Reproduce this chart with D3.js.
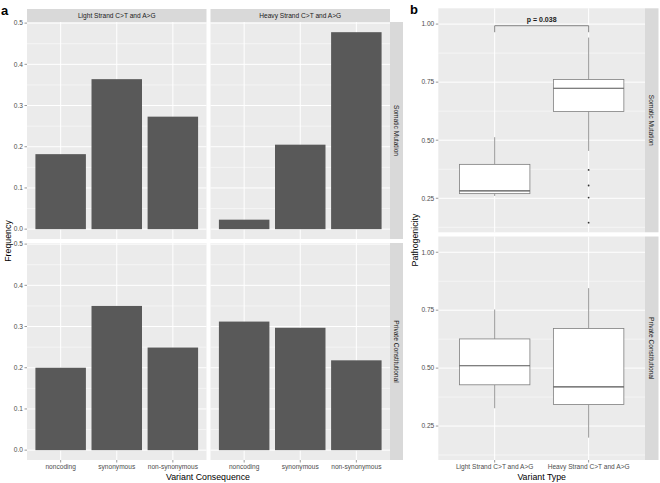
<!DOCTYPE html>
<html><head><meta charset="utf-8">
<script src="https://cdn.jsdelivr.net/npm/d3@7"></script>
<style>body{margin:0;background:#fff}svg{display:block;font-family:"Liberation Sans",Arial,sans-serif}</style>
</head><body><svg id="c" width="660" height="483"></svg>
<script>
// ---- data ----
const consequences = ["noncoding", "synonymous", "non-synonymous"];
const strands = ["Light Strand C>T and A>G", "Heavy Strand C>T and A>G"];
const origins = ["Somatic Mutation", "Private Constitutional"];
const freqSomaticLight = [0.182, 0.364, 0.273];
const freqSomaticHeavy = [0.023, 0.205, 0.478];
const freqPrivateLight = [0.200, 0.350, 0.249];
const freqPrivateHeavy = [0.312, 0.297, 0.218];
const freqTicks = [0, 0.1, 0.2, 0.3, 0.4, 0.5];
// box stats: [lowerWhisker, q1, median, q3, upperWhisker]
const boxSomaticLight = [0.260, 0.270, 0.282, 0.396, 0.513];
const boxSomaticHeavy = [0.454, 0.624, 0.724, 0.761, 0.942];
const boxPrivateLight = [0.327, 0.428, 0.510, 0.626, 0.753];
const boxPrivateHeavy = [0.200, 0.343, 0.419, 0.671, 0.845];
const outliersSomaticHeavy = [0.372, 0.305, 0.253, 0.145];
const pathTicks = [0.25, 0.50, 0.75, 1.00];
const pLabel = "p = 0.038";
const bracketY = [0.965, 0.993];

const svg = d3.select("#c");
const BG = "#EBEBEB", STRIP = "#D9D9D9", TICKC = "#4D4D4D";
const fs = 6.6;

// ---- panel a ----
const aCols = [[27, 206.5], [210.5, 390]];
const aRows = [[22, 239], [243, 460]];
const freqData = [[freqSomaticLight, freqSomaticHeavy], [freqPrivateLight, freqPrivateHeavy]];
const yMinor = [0.05, 0.15, 0.25, 0.35, 0.45];

function xBandScale(x0, x1, cats) {
  // ggplot-like discrete: positions 1..n with 0.6 expansion
  const lin = d3.scaleLinear().domain([0.4, cats.length + 0.6]).range([x0, x1]);
  return lin;
}

aRows.forEach((r, ri) => {
  const y = d3.scaleLinear().domain([-0.0239, 0.5027]).range([r[1], r[0]]);
  aCols.forEach((c, ci) => {
    const g = svg.append("g");
    g.append("rect").attr("x", c[0]).attr("y", r[0]).attr("width", c[1] - c[0]).attr("height", r[1] - r[0]).attr("fill", BG);
    yMinor.forEach(v => g.append("line").attr("x1", c[0]).attr("x2", c[1]).attr("y1", y(v)).attr("y2", y(v)).attr("stroke", "#fff").attr("stroke-width", 0.5));
    freqTicks.forEach(v => g.append("line").attr("x1", c[0]).attr("x2", c[1]).attr("y1", y(v)).attr("y2", y(v)).attr("stroke", "#fff").attr("stroke-width", 1));
    const x = xBandScale(c[0], c[1], consequences);
    consequences.forEach((k, i) => g.append("line").attr("x1", x(i + 1)).attr("x2", x(i + 1)).attr("y1", r[0]).attr("y2", r[1]).attr("stroke", "#fff").attr("stroke-width", 1));
    freqData[ri][ci].forEach((v, i) => {
      g.append("rect").attr("x", x(i + 1 - 0.45)).attr("width", x(i + 1 + 0.45) - x(i + 1 - 0.45))
        .attr("y", y(v)).attr("height", y(0) - y(v)).attr("fill", "#595959");
    });
    if (ri === 0) {
      g.append("rect").attr("x", c[0]).attr("y", 9).attr("width", c[1] - c[0]).attr("height", 13).attr("fill", STRIP);
      g.append("text").attr("x", (c[0] + c[1]) / 2).attr("y", 15.5).attr("dy", "0.35em").attr("text-anchor", "middle")
        .attr("font-size", fs).attr("fill", "#1A1A1A").text(strands[ci]);
    }
    if (ri === 1) {
      consequences.forEach((k, i) => {
        g.append("line").attr("x1", x(i + 1)).attr("x2", x(i + 1)).attr("y1", r[1]).attr("y2", r[1] + 2.5).attr("stroke", "#333").attr("stroke-width", 0.5);
        g.append("text").attr("x", x(i + 1)).attr("y", 469).attr("text-anchor", "middle").attr("font-size", fs).attr("fill", TICKC).text(k);
      });
    }
    if (ci === 0) {
      freqTicks.forEach(v => {
        g.append("line").attr("x1", c[0] - 2.5).attr("x2", c[0]).attr("y1", y(v)).attr("y2", y(v)).attr("stroke", "#333").attr("stroke-width", 0.5);
        g.append("text").attr("x", c[0] - 4).attr("y", y(v)).attr("dy", "0.35em").attr("text-anchor", "end").attr("font-size", fs).attr("fill", TICKC).text(d3.format(".1f")(v));
      });
    }
  });
  svg.append("rect").attr("x", 390).attr("y", r[0]).attr("width", 13).attr("height", r[1] - r[0]).attr("fill", STRIP);
  svg.append("text").attr("transform", `translate(396.5,${(r[0] + r[1]) / 2}) rotate(90)`).attr("dy", "0.35em")
    .attr("text-anchor", "middle").attr("font-size", fs).attr("fill", "#1A1A1A").text(origins[ri]);
});
svg.append("text").attr("x", 208).attr("y", 480).attr("text-anchor", "middle").attr("font-size", 8.8).attr("fill", "#000").text("Variant Consequence");
svg.append("text").attr("transform", "translate(11,241) rotate(-90)").attr("text-anchor", "middle").attr("font-size", 8.8).attr("fill", "#000").text("Frequency");
svg.append("text").attr("x", 1).attr("y", 15).attr("font-size", 13).attr("font-weight", "bold").attr("font-family", "Liberation Sans, Arial, sans-serif").text("a");

// ---- panel b ----
const bCol = [438.3, 645];
const bRows = [[8.3, 232.3], [236.5, 460]];
const boxData = [[boxSomaticLight, boxSomaticHeavy], [boxPrivateLight, boxPrivateHeavy]];
const bMinor = [0.125, 0.375, 0.625, 0.875];
const xb = xBandScale(bCol[0], bCol[1], strands);
bRows.forEach((r, ri) => {
  const y = d3.scaleLinear().domain([0.1035, 1.068]).range([r[1], r[0]]);
  const g = svg.append("g");
  g.append("rect").attr("x", bCol[0]).attr("y", r[0]).attr("width", bCol[1] - bCol[0]).attr("height", r[1] - r[0]).attr("fill", BG);
  bMinor.forEach(v => g.append("line").attr("x1", bCol[0]).attr("x2", bCol[1]).attr("y1", y(v)).attr("y2", y(v)).attr("stroke", "#fff").attr("stroke-width", 0.5));
  pathTicks.forEach(v => g.append("line").attr("x1", bCol[0]).attr("x2", bCol[1]).attr("y1", y(v)).attr("y2", y(v)).attr("stroke", "#fff").attr("stroke-width", 1));
  strands.forEach((s, i) => g.append("line").attr("x1", xb(i + 1)).attr("x2", xb(i + 1)).attr("y1", r[0]).attr("y2", r[1]).attr("stroke", "#fff").attr("stroke-width", 1));
  boxData[ri].forEach((b, i) => {
    const cx = xb(i + 1), hw = (xb(1.375) - xb(1));
    const col = "#7F7F7F";
    g.append("line").attr("x1", cx).attr("x2", cx).attr("y1", y(b[0])).attr("y2", y(b[1])).attr("stroke", col).attr("stroke-width", 0.8);
    g.append("line").attr("x1", cx).attr("x2", cx).attr("y1", y(b[3])).attr("y2", y(b[4])).attr("stroke", col).attr("stroke-width", 0.8);
    g.append("rect").attr("x", cx - hw).attr("width", 2 * hw).attr("y", y(b[3])).attr("height", y(b[1]) - y(b[3]))
      .attr("fill", "#fff").attr("stroke", col).attr("stroke-width", 0.8);
    g.append("line").attr("x1", cx - hw).attr("x2", cx + hw).attr("y1", y(b[2])).attr("y2", y(b[2])).attr("stroke", "#555").attr("stroke-width", 1.1);
  });
  if (ri === 0) {
    outliersSomaticHeavy.forEach(v => g.append("circle").attr("cx", xb(2)).attr("cy", y(v)).attr("r", 0.9).attr("fill", "#333"));
    const bp = d3.path();
    bp.moveTo(xb(1), y(bracketY[0])); bp.lineTo(xb(1), y(bracketY[1])); bp.lineTo(xb(2), y(bracketY[1])); bp.lineTo(xb(2), y(bracketY[0]));
    g.append("path").attr("d", bp.toString()).attr("fill", "none").attr("stroke", "#555").attr("stroke-width", 0.7);
    g.append("text").attr("x", (xb(1) + xb(2)) / 2).attr("y", y(bracketY[1]) - 3.5).attr("text-anchor", "middle").attr("font-size", 7).attr("font-weight", "bold").attr("fill", "#1A1A1A").text(pLabel);
  }
  if (ri === 1) {
    strands.forEach((s, i) => {
      g.append("line").attr("x1", xb(i + 1)).attr("x2", xb(i + 1)).attr("y1", r[1]).attr("y2", r[1] + 2.5).attr("stroke", "#333").attr("stroke-width", 0.5);
      g.append("text").attr("x", xb(i + 1)).attr("y", 469).attr("text-anchor", "middle").attr("font-size", fs).attr("fill", TICKC).text(s);
    });
  }
  pathTicks.forEach(v => {
    g.append("line").attr("x1", bCol[0] - 2.5).attr("x2", bCol[0]).attr("y1", y(v)).attr("y2", y(v)).attr("stroke", "#333").attr("stroke-width", 0.5);
    g.append("text").attr("x", bCol[0] - 4).attr("y", y(v)).attr("dy", "0.35em").attr("text-anchor", "end").attr("font-size", fs).attr("fill", TICKC).text(d3.format(".2f")(v));
  });
  svg.append("rect").attr("x", 645).attr("y", r[0]).attr("width", 13.5).attr("height", r[1] - r[0]).attr("fill", STRIP);
  svg.append("text").attr("transform", `translate(651.7,${(r[0] + r[1]) / 2}) rotate(90)`).attr("dy", "0.35em")
    .attr("text-anchor", "middle").attr("font-size", fs).attr("fill", "#1A1A1A").text(origins[ri]);
});
svg.append("text").attr("x", 541.7).attr("y", 480).attr("text-anchor", "middle").attr("font-size", 8.8).attr("fill", "#000").text("Variant Type");
svg.append("text").attr("transform", "translate(418,240) rotate(-90)").attr("text-anchor", "middle").attr("font-size", 8.8).attr("fill", "#000").text("Pathogenicity");
svg.append("text").attr("x", 410).attr("y", 14).attr("font-size", 13).attr("font-weight", "bold").text("b");
</script></body></html>
